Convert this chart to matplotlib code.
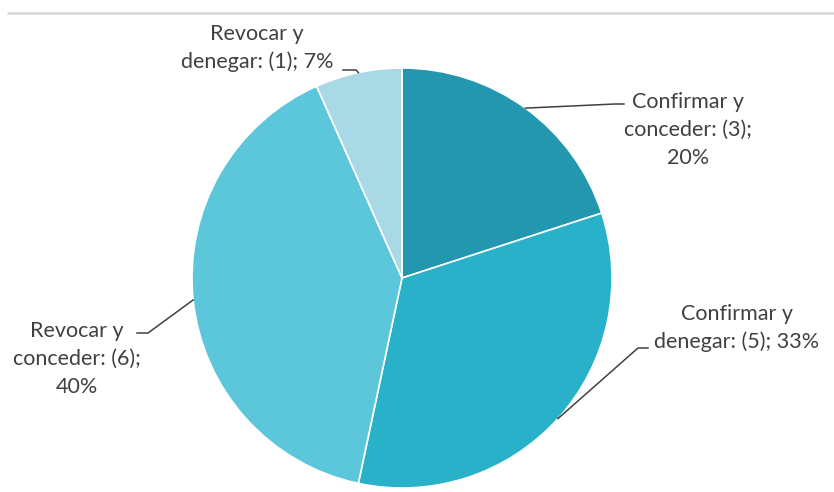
import numpy as np
import matplotlib
matplotlib.use("Agg")
import matplotlib.pyplot as plt

# Resultados por tipo de resolución
categorias = ["Confirmar y\nconceder", "Confirmar y\ndenegar", "Revocar y\nconceder", "Revocar y\ndenegar"]
casos = [3, 5, 6, 1]
porcentajes = [20, 33, 40, 7]
colores = ["#2397B0", "#29B1C9", "#5CC6DA", "#A9D9E4"]

W, H = 834, 492
fig = plt.figure(figsize=(W / 100, H / 100), dpi=100)
ax = fig.add_axes([0, 0, 1, 1])

plt.rcParams["font.family"] = ["Lato", "DejaVu Sans"]

cx, cy, r = 402, H - 278, 210
wedges, _ = ax.pie(casos, colors=colores, startangle=90, counterclock=False,
                   center=(cx, cy), radius=r, frame=True,
                   wedgeprops=dict(edgecolor="white", linewidth=1.2))
ax.set_xlim(0, W)
ax.set_ylim(0, H)
ax.set_aspect("equal")
ax.axis("off")

# linea gris superior
ax.plot([7, W], [H - 13, H - 13], color="#D9D9D9", lw=2, solid_capstyle="butt")

# etiquetas: (x texto, y texto, codo, fin de linea)
etiquetas = [
    (688, 130, (615, 104), (624, 104)),
    (737, 328, (638, 348), (648, 348)),
    (77, 359, (148, 333), (137, 333)),
    (257, 48, (356, 70), (343, 70)),
]

for w, cat, n, pct, (tx, ty, codo, fin) in zip(wedges, categorias, casos, porcentajes, etiquetas):
    ang = np.deg2rad((w.theta1 + w.theta2) / 2)
    ex = cx + r * np.cos(ang)
    ey = cy + r * np.sin(ang)
    ax.plot([ex, codo[0], fin[0]], [ey, H - codo[1], H - fin[1]], color="#404040", lw=1.1)
    nombre, resto = cat.split("\n")
    if n == 5 or n == 1:
        texto = f"{nombre}\n{resto}: ({n}); {pct}%"
    else:
        texto = f"{nombre}\n{resto}: ({n});\n{pct}%"
    ax.text(tx, H - ty, texto, ha="center", va="center", fontsize=15.5, color="#404040",
            linespacing=1.5)

fig.savefig("out.png", dpi=100, facecolor="white")
